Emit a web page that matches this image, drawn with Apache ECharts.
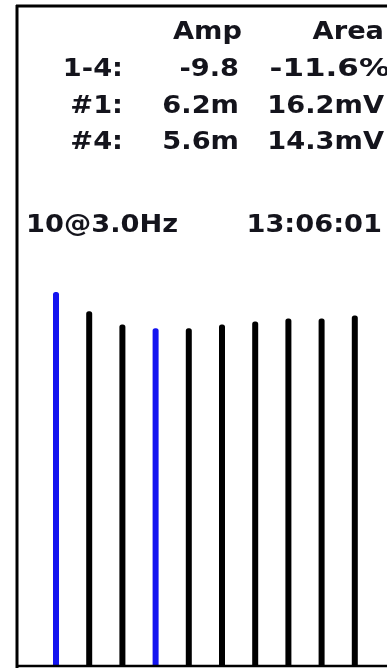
<!DOCTYPE html>
<html>
<head>
<meta charset="utf-8">
<style>
  html, body { margin: 0; padding: 0; background: #ffffff; }
  #chart { width: 387px; height: 668px; }
</style>
<script src="https://cdn.jsdelivr.net/npm/echarts@6/dist/echarts.min.js"></script>
</head>
<body>
<div id="chart"></div>
<script>
// Train of ten stimuli, response amplitudes in mV
const stimuli = ['1', '2', '3', '4', '5', '6', '7', '8', '9', '10'];
const amplitudes = [6.2, 5.88, 5.66, 5.6, 5.6, 5.66, 5.71, 5.76, 5.76, 5.81];
const highlighted = [0, 3]; // responses #1 and #4 used for the ratio

// Summary table
const columnHeads = ['Amp', 'Area'];
const rowLabels = ['1-4:', '#1:', '#4:'];
const ampColumn = ['-9.8', '6.2m', '5.6m'];
const areaColumn = ['-11.6%', '16.2mV', '14.3mV'];
const trainLabel = '10@3.0Hz';
const clockLabel = '13:06:01';

const FONT = 'bold 25px "DejaVu Sans", Verdana, sans-serif';
const INK = '#14141c';
const SX = 1.09;

function txt(str, x, y, align, sx) {
  return {
    type: 'text', x: x, y: y, scaleX: sx || SX, z: 10,
    style: { text: str, x: 0, y: 0, font: FONT, fill: INK, align: align, verticalAlign: 'middle' }
  };
}

const graphics = [];
graphics.push(txt(columnHeads[0], 242, 32, 'right'));
graphics.push(txt(columnHeads[1], 384, 32, 'right'));
const rowY = [69, 106, 142];
rowLabels.forEach((lab, i) => {
  graphics.push(txt(lab, 123, rowY[i], 'right'));
  graphics.push(txt(ampColumn[i], 239, rowY[i], 'right'));
  // the percentage entry runs a little wider and past the right edge
  if (i === 0) graphics.push(txt(areaColumn[i], 390, rowY[i], 'right', 1.24));
  else graphics.push(txt(areaColumn[i], 384, rowY[i], 'right'));
});
graphics.push(txt(trainLabel, 26, 225, 'left'));
graphics.push(txt(clockLabel, 382, 225, 'right'));

// Frame: left, top and bottom edges
graphics.push({ type: 'line', z: 20, shape: { x1: 17, y1: 5, x2: 17, y2: 668 }, style: { stroke: '#000', lineWidth: 3 } });
graphics.push({ type: 'line', z: 20, shape: { x1: 16, y1: 6, x2: 387, y2: 6 }, style: { stroke: '#000', lineWidth: 3 } });
graphics.push({ type: 'line', z: 20, shape: { x1: 16, y1: 666, x2: 387, y2: 666 }, style: { stroke: '#000', lineWidth: 2.5 } });

const chart = echarts.init(document.getElementById('chart'), null, { renderer: 'canvas' });
chart.setOption({
  animation: false,
  backgroundColor: '#ffffff',
  grid: { left: 39.4, right: 15.6, top: 244, bottom: 3 },
  xAxis: {
    type: 'category', data: stimuli,
    axisLine: { show: false }, axisTick: { show: false }, axisLabel: { show: false }
  },
  yAxis: {
    type: 'value', min: 0, max: 7,
    axisLine: { show: false }, axisTick: { show: false }, axisLabel: { show: false },
    splitLine: { show: false }
  },
  series: [{
    type: 'bar',
    data: amplitudes.map((v, i) => {
      const hi = highlighted.includes(i);
      return {
        value: v,
        itemStyle: { color: hi ? '#1414f0' : '#000000' },
        barWidth: hi ? 5 : 6
      };
    }),
    barWidth: 6,
    itemStyle: { borderRadius: [2.5, 2.5, 0, 0] }
  }],
  graphic: graphics
});
</script>
</body>
</html>
